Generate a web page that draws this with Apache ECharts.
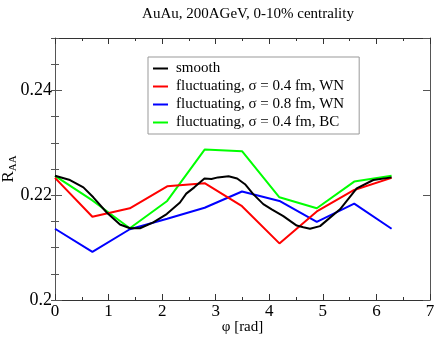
<!DOCTYPE html>
<html>
<head>
<meta charset="utf-8">
<script src="https://cdn.jsdelivr.net/npm/echarts@6/dist/echarts.min.js"></script>
<style>
  html, body { margin: 0; padding: 0; background: #fff; }
  #main { width: 436px; height: 337px; }
</style>
</head>
<body>
<div id="main"></div>
<script>
// 数据: phi 取 0..2pi 的 10 个点
var phiWN = [0, 0.698, 1.396, 2.094, 2.793, 3.491, 4.189, 4.887, 5.585, 6.283];
var red04WN = [0.2233, 0.2159, 0.2175, 0.2217, 0.2223, 0.2179, 0.2108, 0.2169, 0.2210, 0.2233];
var blue08WN = [0.2136, 0.2092, 0.2135, 0.2155, 0.2176, 0.2207, 0.2189, 0.2149, 0.2184, 0.2136];
var green04BC = [0.2237, 0.2190, 0.2137, 0.2189, 0.2287, 0.2284, 0.2196, 0.2175, 0.2226, 0.2237];
// smooth 曲线的采样点
var phiSmooth = [0, 0.28, 0.53, 0.715, 0.965, 1.213, 1.40, 1.587, 1.835, 2.085, 2.333, 2.45, 2.6, 2.79,
    2.92, 3.04, 3.24, 3.40, 3.547, 3.70, 3.888, 4.045, 4.262, 4.512, 4.635, 4.76, 4.947, 5.32, 5.632, 5.942, 6.283];
var smooth = [0.2237, 0.2229, 0.2215, 0.2196, 0.2167, 0.2144, 0.2137, 0.2137, 0.2148, 0.2164, 0.2186, 0.2203, 0.2215, 0.2232,
    0.2231, 0.2234, 0.2236, 0.2232, 0.2221, 0.2202, 0.2183, 0.2173, 0.2160, 0.2142, 0.2139, 0.2136, 0.2141, 0.2173, 0.2213, 0.2229, 0.2234];
var seriesNames = ['smooth', 'fluctuating, σ = 0.4 fm, WN', 'fluctuating, σ = 0.8 fm, WN', 'fluctuating, σ = 0.4 fm, BC'];
var seriesColors = ['#000000', '#ff0000', '#0000ff', '#00ff00'];
var yTickLabels = ['0.2', '0.22', '0.24'];

var FONT = 'Liberation Serif';

function pairs(xs, ys) {
    var arr = [];
    for (var i = 0; i < xs.length; i++) {
        arr.push([xs[i], ys[i]]);
    }
    return arr;
}

function lineSeries(idx, data) {
    return {
        name: seriesNames[idx],
        type: 'line',
        data: data,
        symbol: 'none',
        xAxisIndex: 0,
        yAxisIndex: 0,
        lineStyle: { color: seriesColors[idx], width: 2 },
        itemStyle: { color: seriesColors[idx] },
        z: 10 - idx
    };
}

// 坐标轴: 刻度朝里, 四边都有
function xAxisCfg(pos, showLabel) {
    return {
        type: 'value', position: pos, min: 0, max: 7, interval: 1,
        name: showLabel ? 'φ [rad]' : '',
        nameLocation: 'middle', nameGap: 20, nameMoveOverlap: false,
        nameTextStyle: { fontFamily: FONT, fontSize: 15, color: '#000' },
        axisLine: { show: true, onZero: false, lineStyle: { color: '#333', width: 1 } },
        axisTick: { show: true, inside: true, length: 6, lineStyle: { color: '#333' } },
        minorTick: { show: true, splitNumber: 2, length: 3, lineStyle: { color: '#333' } },
        axisLabel: { show: showLabel, fontFamily: FONT, fontSize: 17, color: '#000', margin: 3 },
        splitLine: { show: false }
    };
}

function yAxisMajor(pos, showLabel) {
    return {
        type: 'value', position: pos, min: 0.2, max: 0.25, interval: 0.02,
        name: showLabel ? '{r|R}{s|AA}' : '',
        nameLocation: 'middle', nameGap: 36, nameRotate: 90, nameMoveOverlap: false,
        nameTextStyle: {
            rich: {
                r: { fontFamily: FONT, fontSize: 17, color: '#000', lineHeight: 20 },
                s: { fontFamily: FONT, fontSize: 11, color: '#000', verticalAlign: 'bottom', lineHeight: 14, padding: [6, 0, 0, 0] }
            }
        },
        axisLine: { show: true, onZero: false, lineStyle: { color: '#555', width: 1 } },
        axisTick: { show: true, inside: true, length: 7, lineStyle: { color: '#555' } },
        axisLabel: {
            show: showLabel, fontFamily: FONT, fontSize: 18, color: '#000', margin: 3,
            showMaxLabel: false,
            formatter: function (v) {
                var s = String(Math.round(v * 100) / 100);
                return yTickLabels.indexOf(s) >= 0 ? s : '';
            }
        },
        splitLine: { show: false }
    };
}

function yAxisMinor(pos) {
    return {
        type: 'value', position: pos, min: 0.2, max: 0.25, interval: 0.005,
        axisLine: { show: false },
        axisTick: { show: true, inside: true, length: 4, lineStyle: { color: '#555' } },
        axisLabel: { show: false },
        splitLine: { show: false }
    };
}

var option = {
    animation: false,
    backgroundColor: '#fff',
    title: {
        text: 'AuAu, 200AGeV, 0-10% centrality',
        left: 243, top: 2, textAlign: 'center',
        textStyle: { fontFamily: FONT, fontSize: 15, fontWeight: 'normal', color: '#000' }
    },
    grid: { left: 55, right: 6, top: 38, bottom: 37, containLabel: false, outerBoundsMode: 'none' },
    legend: {
        orient: 'vertical', left: 148, top: 57,
        padding: [4, 15, 4, 5], itemGap: 3,
        itemWidth: 15, itemHeight: 2, icon: 'rect',
        borderColor: '#999', borderWidth: 1,
        textStyle: { fontFamily: FONT, fontSize: 15, color: '#000', padding: [0, 0, 0, 3] },
        data: seriesNames
    },
    xAxis: [xAxisCfg('bottom', true), xAxisCfg('top', false)],
    yAxis: [yAxisMajor('left', true), yAxisMinor('left'), yAxisMajor('right', false), yAxisMinor('right')],
    series: [
        lineSeries(0, pairs(phiSmooth, smooth)),
        lineSeries(1, pairs(phiWN, red04WN)),
        lineSeries(2, pairs(phiWN, blue08WN)),
        lineSeries(3, pairs(phiWN, green04BC))
    ]
};

var chart = echarts.init(document.getElementById('main'));
chart.setOption(option);
</script>
</body>
</html>
